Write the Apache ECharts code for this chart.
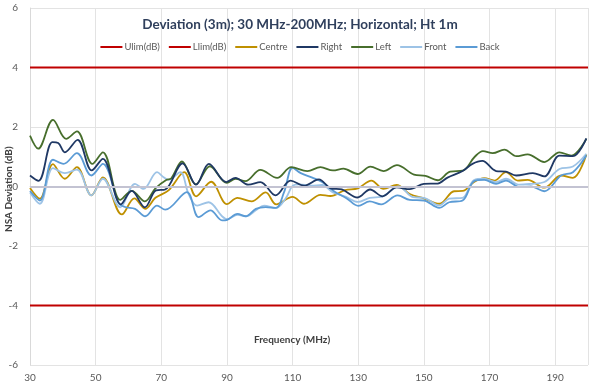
<!DOCTYPE html>
<html>
<head>
<meta charset="utf-8">
<script src="https://cdn.jsdelivr.net/npm/echarts@6/dist/echarts.min.js"></script>
<style>
html,body{margin:0;padding:0;background:#fff;}
#c{width:600px;height:388px;}
</style>
</head>
<body>
<div id="c"></div>
<script>
var xTicks = [30, 50, 70, 90, 110, 130, 150, 170, 190];
var yTicks = [-6, -4, -2, 0, 2, 4, 6];
var xName = 'Frequency (MHz)';
var yName = 'NSA Deviation (dB)';
var ulim = [[30, 4], [200, 4]];
var llim = [[30, -4], [200, -4]];
var centre = [[30,-0.05],[33,-0.41],[37,0.75],[40.6,0.26],[44.3,0.65],[48.7,-0.3],[52.2,0.31],[58,-0.94],[61.8,-0.4],[65.1,-0.75],[68.2,-0.38],[72.2,-0.13],[77,0.48],[80.6,-0.33],[85.2,0.16],[90,-0.59],[93.2,-0.38],[97.5,-0.5],[101.8,-0.2],[105,-0.6],[110,-0.35],[113.5,-0.58],[118.5,-0.28],[121.5,-0.32],[126,-0.12],[129.9,-0.06],[134,0.2],[137.7,-0.08],[141.7,0.05],[145.7,-0.25],[150,-0.4],[154.7,-0.58],[159.2,-0.16],[161.8,-0.15],[165.3,0.15],[168.4,0.28],[171.5,0.2],[175,0.48],[178.6,0.2],[181.6,0.22],[186.7,-0.04],[191.8,0.37],[195.4,0.29],[199.5,1.08]];
var right = [[30,0.37],[32.6,0.19],[36.8,1.49],[38.6,1.46],[40.6,1.15],[44.5,1.57],[48.8,0.54],[52.2,0.93],[57.7,-0.6],[61,-0.15],[65,-0.7],[68.4,-0.13],[71.2,-0.1],[76.5,0.78],[80.6,0.06],[84.5,0.76],[89.8,0.15],[92.6,0.29],[96.5,0.06],[100.2,0.15],[104.8,-0.3],[109.4,0.2],[113.5,0.03],[118,0.24],[121.6,-0.06],[125,-0.1],[129.8,-0.37],[133.6,-0.1],[137.4,-0.33],[141.7,-0.03],[145.7,-0.09],[150,0.09],[154.2,0.1],[157.2,0.3],[161.8,0.52],[164.8,0.76],[167.8,0.86],[172,0.52],[175,0.5],[178.1,0.37],[183.2,0.45],[186.7,0.34],[191.3,1.04],[195.4,1.02],[199.5,1.62]];
var left = [[30,1.71],[32.5,1.27],[37,2.24],[41,1.6],[44.3,1.85],[49,0.76],[52.2,1.15],[57.5,-0.45],[61,-0.15],[65,-0.5],[68.2,-0.06],[71.5,0.22],[73,0.27],[76.3,0.84],[80.5,0.07],[84.8,0.68],[90,0.12],[92.6,0.26],[95.6,0.18],[100.2,0.56],[105.3,0.29],[109.6,0.65],[114.5,0.52],[118.5,0.65],[122.3,0.54],[125.5,0.6],[129.8,0.42],[133.7,0.67],[137.7,0.52],[141.8,0.72],[147,0.4],[150.5,0.36],[154.2,0.21],[158,0.5],[161.8,0.53],[165.5,1.0],[168,1.19],[171,1.12],[174.5,1.24],[178.2,1.02],[181.6,1.08],[186.7,0.82],[191.3,1.15],[194.9,1.04],[199.5,1.6]];
var front = [[30,-0.2],[33,-0.58],[37,0.62],[40.6,0.45],[44.3,0.57],[48.7,-0.3],[52.2,0.26],[57.5,-0.7],[62,0.09],[64.6,-0.08],[68.7,0.48],[70.7,0.31],[72.2,0.22],[75.8,0.48],[78.3,-0.25],[80.9,-0.64],[84.4,-0.53],[88.5,-1.0],[90.1,-1.1],[93.2,-0.95],[96,-1.0],[98.8,-0.8],[101.3,-0.64],[104.9,-0.72],[108,-0.38],[110,0.02],[112,0.07],[115.6,0.03],[119,0.05],[122.3,-0.2],[126.3,-0.35],[129.9,-0.52],[133.5,-0.38],[137,-0.35],[142.3,0],[146.7,-0.36],[150,-0.38],[154.7,-0.64],[157.7,-0.41],[161.8,-0.38],[165.3,0.22],[168.4,0.26],[172,0.15],[175,0.26],[179.1,0.06],[182.6,0.09],[186.7,0.15],[191.3,0.59],[195.4,0.67],[199.5,1.1]];
var back = [[30,-0.15],[33,-0.47],[37,0.9],[40.2,0.76],[44.3,1.12],[48.7,0.37],[52.2,0.76],[57,-0.55],[59,-0.69],[62,-0.75],[65.1,-1.0],[68.7,-0.64],[71.2,-0.78],[77.8,-0.19],[81.4,-1.03],[85,-0.8],[88.5,-1.14],[90.1,-1.12],[93.2,-0.92],[95.7,-1.0],[98.8,-0.75],[101.8,-0.69],[104.9,-0.72],[107.4,-0.19],[110,0.63],[112.5,0.45],[116,0.3],[119,0.15],[122.5,-0.15],[126.5,-0.4],[130,-0.65],[133.5,-0.5],[137,-0.6],[142,-0.3],[145.7,-0.45],[150,-0.47],[154.7,-0.72],[157.7,-0.53],[161.8,-0.47],[165.3,0.18],[168.4,0.22],[172,0.09],[175,0.2],[179.1,-0.02],[182.6,0],[186.7,-0.16],[191.8,0.37],[195.4,0.48],[199.5,1.04]];

var chart = echarts.init(document.getElementById('c'));
var FONT = 'Lato';
function ln(name, data, color, smooth, z) {
  return {name: name, type: 'line', data: data, smooth: smooth ? 0.35 : false, symbol: 'none',
    lineStyle: {color: color, width: 1.8}, itemStyle: {color: color}, z: z || 2, animation: false};
}
var series = [
  ln('Ulim(dB)', ulim, '#C00000', false),
  ln('Llim(dB)', llim, '#C00000', false),
  ln('Centre', centre, '#BF9000', true),
  ln('Right', right, '#1F3864', true, 4),
  ln('Left', left, '#476E2C', true, 3),
  ln('Front', front, '#9DC3E6', true),
  ln('Back', back, '#5B9BD5', true)
];
series[0].markLine = {silent: true, symbol: 'none', label: {show: false},
  lineStyle: {color: '#C3C3D2', width: 2, type: 'solid'}, data: [{yAxis: 0}]};
series[0].z = 1;
chart.setOption({
  backgroundColor: '#fff',
  animation: false,
  title: {text: 'Deviation (3m); 30 MHz-200MHz; Horizontal; Ht 1m', left: 'center', top: 13,
    textStyle: {fontFamily: FONT, fontSize: 13.5, fontWeight: 'bold', color: '#2F3F5C'}},
  legend: {top: 37, left: 'center', itemWidth: 22, itemHeight: 2, icon: 'rect', itemGap: 9,
    textStyle: {fontFamily: FONT, fontSize: 9.5, color: '#595959', padding: [0, 0, 0, -3]},
    data: ['Ulim(dB)', 'Llim(dB)', 'Centre', 'Right', 'Left', 'Front', 'Back']},
  grid: {left: 30, right: 12, top: 8, bottom: 23, containLabel: false, outerBoundsMode: 'none'},
  graphic: [
    {type: 'text', left: 254, top: 335, z: 10, silent: true,
      style: {text: xName, font: 'bold 10px Lato', fill: '#404040'}},
    {type: 'text', x: 4, y: 232, rotation: Math.PI / 2, z: 10, silent: true,
      style: {text: yName, font: 'bold 10px Lato', fill: '#404040'}}
  ],
  xAxis: {type: 'value', min: 30, max: 200, interval: 20,
    axisLine: {show: true, lineStyle: {color: '#D9D9D9'}}, axisTick: {show: false},
    axisLabel: {fontFamily: FONT, fontSize: 10, color: '#595959', margin: 8, showMaxLabel: false,
      formatter: function (v) { return xTicks.indexOf(v) >= 0 ? String(v) : ''; }},
    splitLine: {show: true, lineStyle: {color: '#E3E3E3'}}},
  yAxis: {type: 'value', min: -6, max: 6, interval: 2,
    axisLine: {show: true, lineStyle: {color: '#D9D9D9'}}, axisTick: {show: false},
    axisLabel: {fontFamily: FONT, fontSize: 10, color: '#595959', margin: 12,
      formatter: function (v) { return yTicks.indexOf(v) >= 0 ? String(v) : ''; }},
    splitLine: {show: true, lineStyle: {color: '#E3E3E3'}}},
  series: series
});
</script>
</body>
</html>
